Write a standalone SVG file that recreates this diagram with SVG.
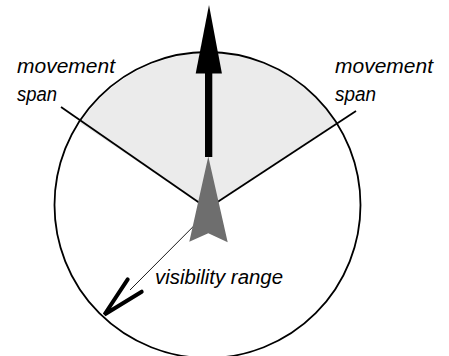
<svg xmlns="http://www.w3.org/2000/svg" width="449" height="356" viewBox="0 0 449 356">
<style>
.lbl{font-family:"Liberation Sans",Arial,sans-serif;font-style:italic;font-size:20.5px;fill:#000}
.edge{stroke:#000;fill:none}
</style>
<rect width="449" height="356" fill="#fff"/>
<g id="range-circle">
<path d="M207.6,208.5 L80,123 A153,153 0 0 1 336.7,122.7 Z" fill="#ebebeb"/>
<circle cx="207.5" cy="205" r="153" fill="none" stroke="#000" stroke-width="1.8"/>
</g>
<g id="connectors">
<line class="edge" x1="61" y1="107" x2="207.6" y2="208.5" stroke-width="1.8"/>
<line class="edge" x1="356" y1="111" x2="207.6" y2="208.5" stroke-width="1.8"/>
<line class="edge" x1="209" y1="210.7" x2="130" y2="290" stroke-width="0.9"/>
<polyline class="edge" points="127.7,279.3 104.5,314.5 141.7,291.7" stroke-width="4" stroke-linecap="round" stroke-linejoin="miter"/>
<rect x="205" y="70" width="7.3" height="87" fill="#000"/>
<polygon points="209,5 195.7,73.5 221.9,73.5" fill="#000"/>
</g>
<g id="agent">
<polygon points="208.3,156.5 189.3,241.7 208.3,233.3 227.7,242.3" fill="#6e6e6e"/>
</g>
<g id="label-left">
<text class="lbl" x="17" y="73" textLength="98" lengthAdjust="spacingAndGlyphs">movement</text>
<text class="lbl" x="17" y="101" textLength="40" lengthAdjust="spacingAndGlyphs">span</text>
</g>
<g id="label-right">
<text class="lbl" x="335" y="73" textLength="98" lengthAdjust="spacingAndGlyphs">movement</text>
<text class="lbl" x="335" y="101" textLength="41" lengthAdjust="spacingAndGlyphs">span</text>
</g>
<g id="label-range">
<text class="lbl" x="155" y="284" textLength="128" lengthAdjust="spacingAndGlyphs">visibility range</text>
</g>
</svg>
